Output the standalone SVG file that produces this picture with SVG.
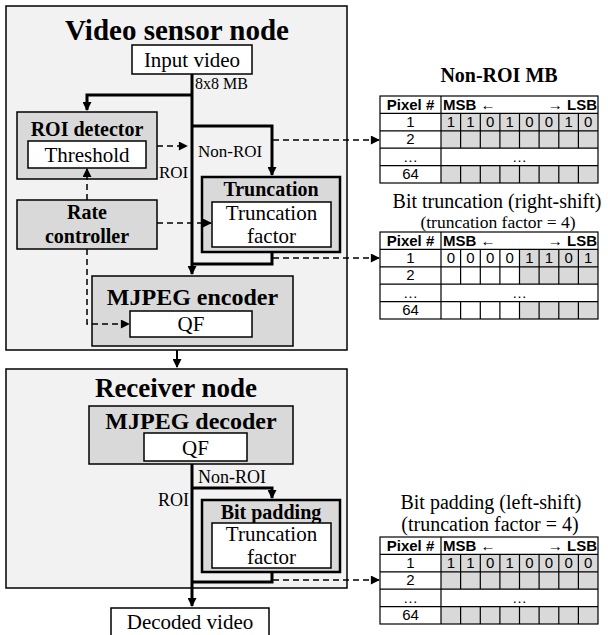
<svg xmlns="http://www.w3.org/2000/svg" xmlns:xlink="http://www.w3.org/1999/xlink" width="608" height="635" viewBox="0 0 608 635">
<style>
.bg{fill:#f2f2f2;stroke:#000;stroke-width:1.5}
.gray{fill:#d9d9d9;stroke:#000;stroke-width:1.5}
.gray2{fill:#d9d9d9;stroke:#000;stroke-width:2.5}
.white{fill:#fff;stroke:#000;stroke-width:1.5}
.t{font-family:"Liberation Serif","Times New Roman",serif;fill:#000}
.b{font-weight:bold}
.m{text-anchor:middle}
.thick{fill:none;stroke:#000;stroke-width:3}
.dash{fill:none;stroke:#000;stroke-width:1.5;stroke-dasharray:6 4}
.s{font-family:"Liberation Sans",Arial,sans-serif;font-size:15px;fill:#000}
.cell{fill:#d9d9d9}
.grid{fill:none;stroke:#000;stroke-width:1.2}
</style>
<defs>
<marker id="ah" viewBox="0 0 10 10" refX="9" refY="5" markerWidth="10" markerHeight="9" markerUnits="userSpaceOnUse" orient="auto">
<path d="M0,0 L10,5 L0,10 z" fill="#000" stroke="none"/>
</marker>
<g id="tgrid">
<rect x="380" y="0" width="218" height="87" class="grid" stroke-width="1.5"/>
<path class="grid" d="M380,17.4H598M380,34.8H598M380,52.2H598M380,69.6H598M441,0V87
M460.6,17.4V52.2M480.3,17.4V52.2M499.9,17.4V52.2M519.5,17.4V52.2M539.1,17.4V52.2M558.8,17.4V52.2M578.4,17.4V52.2
M460.6,69.6V87M480.3,69.6V87M499.9,69.6V87M519.5,69.6V87M539.1,69.6V87M558.8,69.6V87M578.4,69.6V87"/>
</g>
<g id="tlabels">
<text class="s b m" x="410.5" y="13.5">Pixel #</text>
<text class="s b" x="443" y="13.5">MSB <tspan font-weight="normal">←</tspan></text>
<text class="s b" x="597" y="13.5" text-anchor="end"><tspan font-weight="normal">→</tspan> LSB</text>
<text class="s m" x="410.5" y="30.9">1</text>
<text class="s m" x="410.5" y="48.3">2</text>
<text class="s m" x="410.5" y="65.7">…</text>
<text class="s m" x="519.5" y="65.7">…</text>
<text class="s m" x="410.5" y="83.1">64</text>
</g>
</defs>

<g id="video-sensor-node">
<rect class="bg" x="6" y="6" width="341" height="344"/>
<text class="t b m" x="177" y="40" font-size="29">Video sensor node</text>
</g>

<g id="receiver-node">
<rect class="bg" x="6" y="369" width="341" height="219"/>
<text class="t b m" x="176" y="397" font-size="27">Receiver node</text>
</g>

<g id="input-video">
<rect class="white" x="132" y="45" width="120" height="29"/>
<text class="t m" x="192" y="67" font-size="21">Input video</text>
</g>

<g id="roi-detector">
<rect class="gray" x="17" y="112" width="140" height="67"/>
<text class="t b m" x="87" y="136" font-size="20">ROI detector</text>
<rect class="white" x="28" y="141" width="118" height="27"/>
<text class="t m" x="87" y="162" font-size="21">Threshold</text>
</g>

<g id="rate-controller">
<rect class="gray" x="17" y="200" width="140" height="49"/>
<text class="t b m" x="87" y="219" font-size="20">Rate</text>
<text class="t b m" x="87" y="243" font-size="20">controller</text>
</g>

<g id="truncation">
<rect class="gray2" x="202" y="177" width="138" height="75"/>
<text class="t b m" x="271" y="196" font-size="20">Truncation</text>
<rect class="white" x="212" y="202" width="119" height="45"/>
<text class="t m" x="271.5" y="220" font-size="21">Truncation</text>
<text class="t m" x="271.5" y="243" font-size="21">factor</text>
</g>

<g id="mjpeg-encoder">
<rect class="gray" x="92" y="276" width="201" height="70"/>
<text class="t b m" x="192.5" y="305" font-size="24">MJPEG encoder</text>
<rect class="white" x="130" y="311" width="122" height="26"/>
<text class="t m" x="191" y="331" font-size="21">QF</text>
</g>

<g id="mjpeg-decoder">
<rect class="gray" x="89" y="406" width="204" height="58"/>
<text class="t b m" x="191" y="429" font-size="24">MJPEG decoder</text>
<rect class="white" x="144" y="433" width="103" height="28"/>
<text class="t m" x="195.5" y="455" font-size="21">QF</text>
</g>

<g id="bit-padding">
<rect class="gray2" x="202" y="500" width="138" height="72"/>
<text class="t b m" x="271" y="519" font-size="20">Bit padding</text>
<rect class="white" x="212" y="523" width="119" height="45"/>
<text class="t m" x="271.5" y="541" font-size="21">Truncation</text>
<text class="t m" x="271.5" y="564" font-size="21">factor</text>
</g>

<g id="decoded-video">
<rect class="white" x="111" y="608" width="158" height="40"/>
<text class="t m" x="190" y="629" font-size="21">Decoded video</text>
</g>

<g id="table-nonroi">
<text class="t b m" x="499" y="82" font-size="20">Non-ROI MB</text>
<g transform="translate(0,96)">
<rect x="380" y="0" width="218" height="87" fill="#fff"/>
<rect class="cell" x="441" y="17.4" width="157" height="34.8"/>
<rect class="cell" x="441" y="69.6" width="157" height="17.4"/>
<use xlink:href="#tgrid" href="#tgrid"/>
<use xlink:href="#tlabels" href="#tlabels"/>
<g class="s m" text-anchor="middle">
<text x="450.8" y="30.9">1</text><text x="470.4" y="30.9">1</text><text x="490.1" y="30.9">0</text><text x="509.7" y="30.9">1</text>
<text x="529.3" y="30.9">0</text><text x="548.9" y="30.9">0</text><text x="568.6" y="30.9">1</text><text x="588.2" y="30.9">0</text>
</g>
</g>
</g>

<g id="table-truncation">
<text class="t m" x="497" y="208" font-size="20">Bit truncation (right-shift)</text>
<text class="t m" x="498" y="228" font-size="17.5">(truncation factor = 4)</text>
<g transform="translate(0,232)">
<rect x="380" y="0" width="218" height="87" fill="#fff"/>
<rect class="cell" x="519.5" y="17.4" width="78.5" height="34.8"/>
<rect class="cell" x="519.5" y="69.6" width="78.5" height="17.4"/>
<use xlink:href="#tgrid" href="#tgrid"/>
<use xlink:href="#tlabels" href="#tlabels"/>
<g class="s m" text-anchor="middle">
<text x="450.8" y="30.9">0</text><text x="470.4" y="30.9">0</text><text x="490.1" y="30.9">0</text><text x="509.7" y="30.9">0</text>
<text x="529.3" y="30.9">1</text><text x="548.9" y="30.9">1</text><text x="568.6" y="30.9">0</text><text x="588.2" y="30.9">1</text>
</g>
</g>
</g>

<g id="table-padding">
<text class="t m" x="491" y="509" font-size="20">Bit padding (left-shift)</text>
<text class="t m" x="490" y="531" font-size="20">(truncation factor = 4)</text>
<g transform="translate(0,537)">
<rect x="380" y="0" width="218" height="87" fill="#fff"/>
<rect class="cell" x="441" y="17.4" width="157" height="34.8"/>
<rect class="cell" x="441" y="69.6" width="157" height="17.4"/>
<use xlink:href="#tgrid" href="#tgrid"/>
<use xlink:href="#tlabels" href="#tlabels"/>
<g class="s m" text-anchor="middle">
<text x="450.8" y="30.9">1</text><text x="470.4" y="30.9">1</text><text x="490.1" y="30.9">0</text><text x="509.7" y="30.9">1</text>
<text x="529.3" y="30.9">0</text><text x="548.9" y="30.9">0</text><text x="568.6" y="30.9">0</text><text x="588.2" y="30.9">0</text>
</g>
</g>
</g>

<g id="connectors">
<path class="thick" d="M192,74 V274" marker-end="url(#ah)"/>
<path class="thick" d="M192,95 H87 V110" marker-end="url(#ah)"/>
<path class="thick" d="M192,126 H272 V175" marker-end="url(#ah)"/>
<path class="thick" d="M272,252 V264 H192"/>
<path class="dash" d="M157,146 H187" marker-end="url(#ah)"/>
<path class="dash" d="M87,200 V169" marker-end="url(#ah)"/>
<path class="dash" d="M157,223 H211" marker-end="url(#ah)"/>
<path class="dash" d="M87,249 V324 H129" marker-end="url(#ah)"/>
<path class="dash" d="M273,140 H379" marker-end="url(#ah)"/>
<path class="dash" d="M273,258 H379" marker-end="url(#ah)"/>
<path d="M177,350 V367" stroke="#000" stroke-width="2" fill="none" marker-end="url(#ah)"/>
<path class="thick" d="M192,464 V606" marker-end="url(#ah)"/>
<path class="thick" d="M192,488 H272 V498" marker-end="url(#ah)"/>
<path class="thick" d="M272,572 V582 H192"/>
<path class="dash" d="M273,580 H379" marker-end="url(#ah)"/>
<text class="t" x="195" y="89" font-size="16">8x8 MB</text>
<text class="t" x="198" y="157" font-size="17">Non-ROI</text>
<text class="t" x="159" y="178" font-size="17">ROI</text>
<text class="t" x="198" y="483" font-size="18">Non-ROI</text>
<text class="t" x="158" y="506" font-size="18">ROI</text>
</g>
</svg>
